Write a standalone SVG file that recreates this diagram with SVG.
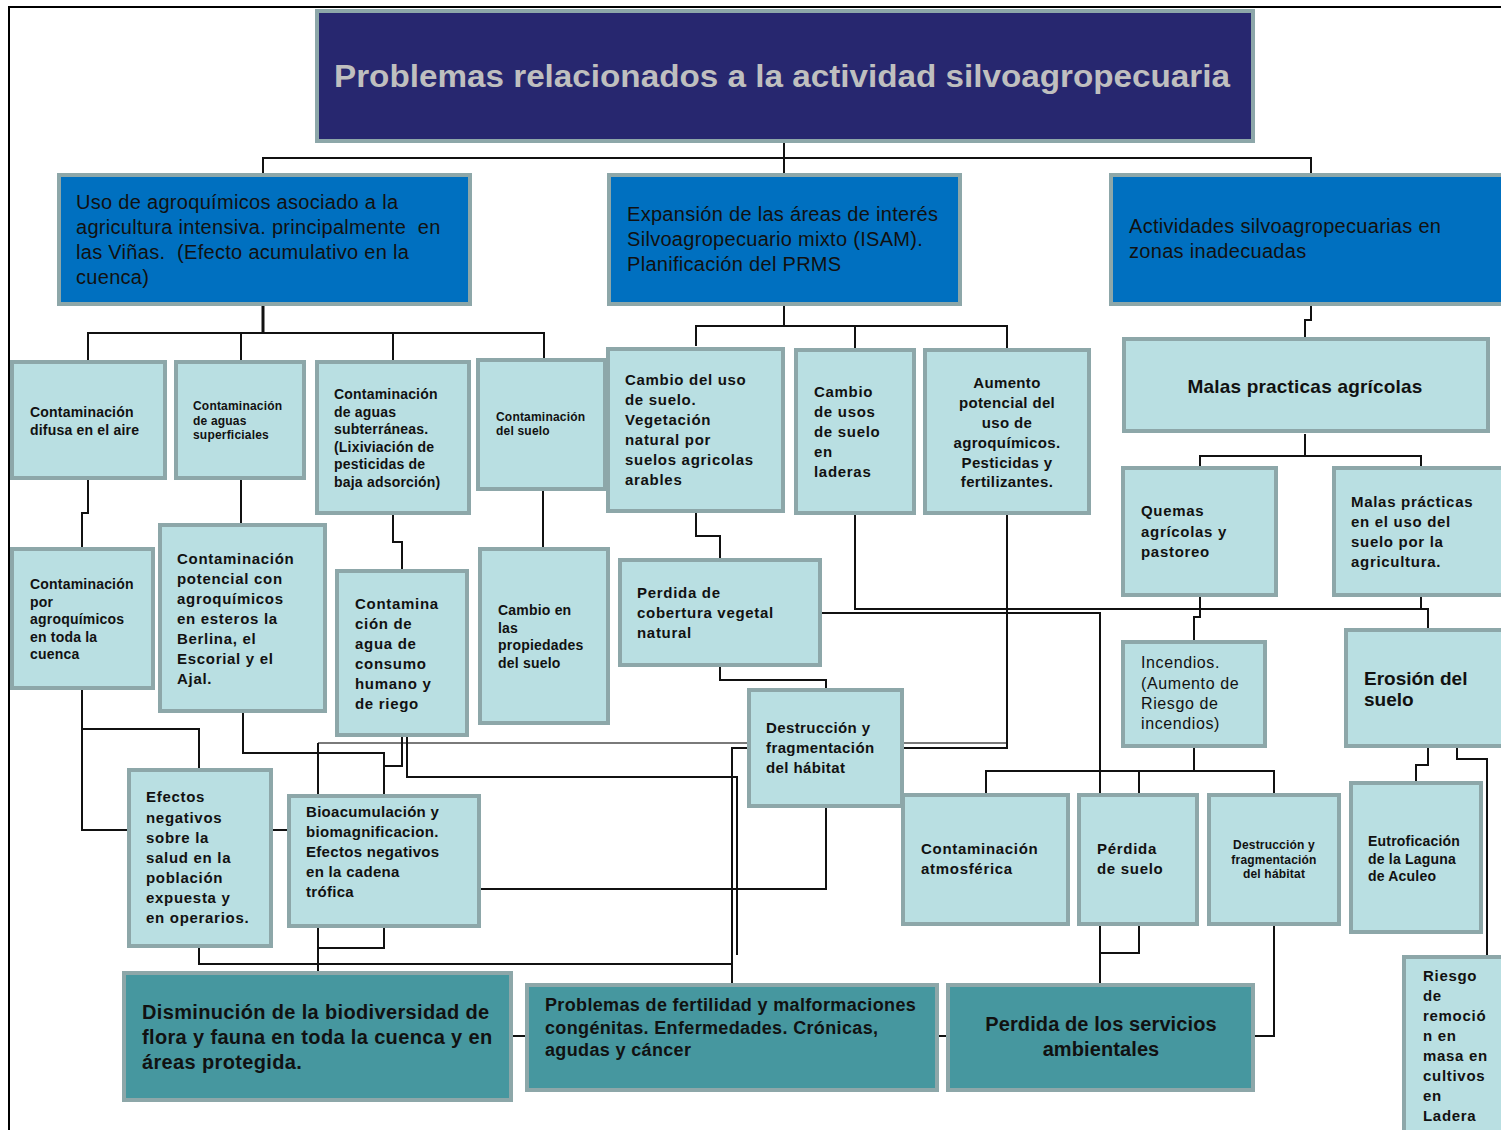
<svg xmlns="http://www.w3.org/2000/svg" width="1501" height="1130" viewBox="0 0 1501 1130">
<style>
text{font-family:"Liberation Sans",Arial,sans-serif;fill:#111}
.title{font-weight:bold;font-size:32px;fill:#BFBFBF}
.lt{fill:#B9DFE2;stroke:#8DA7A9;stroke-width:4}
.bl{fill:#0070C0;stroke:#8DA7A9;stroke-width:4}
.tl{fill:#46979F;stroke:#8DA7A9;stroke-width:4}
.nv{fill:#27276F;stroke:#8DA7A9;stroke-width:4}
.r20{font-size:20px;letter-spacing:0.3px;white-space:pre}
.b15{font-size:15px;font-weight:bold;letter-spacing:0.7px}
.b14{font-size:14px;font-weight:bold;letter-spacing:0.2px}
.b12{font-size:12px;font-weight:bold;letter-spacing:0.2px}
.r16{font-size:16px;letter-spacing:0.6px}
.b19{font-size:19px;font-weight:bold}
.b20{font-size:20px;font-weight:bold;letter-spacing:0.35px}
.b18{font-size:18px;font-weight:bold;letter-spacing:0.35px}
.mid{text-anchor:middle}
#connectors path{fill:none;stroke:#111;stroke-width:2}
#connectors path.g{stroke:#7A7A7A}
#connectors path.k{stroke-width:3}
</style>
<g id="frame">
<path d="M8,7 H1501 M9,7 V1130" fill="none" stroke="#000" stroke-width="2"/>
</g>
<g id="connectors">
<path d="M784,142 V158"/>
<path d="M263,175 V158 H1311 V175"/>
<path d="M784,158 V175"/>
<path class="k" d="M263,306 V333"/>
<path d="M88,360 V333 H544 V358 M241,333 V360 M393,333 V360"/>
<path d="M784,306 V326"/>
<path d="M696,346 V326 H1007 V349 M855,326 V349"/>
<path d="M1311,306 V320 H1305 V337"/>
<path d="M1305,434 V456"/>
<path d="M1200,466 V456 H1421 V466"/>
<path d="M88,480 V513 H82 V547"/>
<path d="M241,480 V523"/>
<path d="M393,515 V542 H402 V570"/>
<path d="M543,490 V547"/>
<path d="M696,512 V536 H720 V558"/>
<path d="M855,515 V609 H1421"/>
<path d="M1421,597 V609 H1428 V628"/>
<path d="M822,613 H1100 V794"/>
<path d="M1200,597 V617 H1194 V640"/>
<path d="M1194,748 V771"/>
<path d="M986,794 V771 H1274 V794 M1139,771 V794"/>
<path d="M1100,926 V983 M1139,926 V953 H1100"/>
<path d="M1274,926 V1036 H1255"/>
<path d="M1428,748 V765 H1416 V782"/>
<path d="M1457,748 V759 H1487 V955"/>
<path d="M720,667 V680 H826 V688"/>
<path class="g" d="M318,743 H1007"/>
<path d="M318,743 V794"/>
<path d="M1007,514 V748 H732 V983"/>
<path d="M826,808 V889 H481"/>
<path d="M243,713 V753 H384 V794"/>
<path d="M402,737 V766 H384"/>
<path d="M407,737 V777 H737 V955"/>
<path d="M82,690 V830 H127 M82,729 H199 V768"/>
<path d="M273,830 H287"/>
<path d="M199,947 V964 H732"/>
<path d="M318,927 V971 M384,927 V948 H318"/>
<path d="M513,1036 H525 M939,1036 H946"/>
</g>
<g id="n-title"><rect class="nv" x="317" y="11" width="936" height="130"/>
<text class="title" x="334" y="87" textLength="896" lengthAdjust="spacingAndGlyphs">Problemas relacionados a la actividad silvoagropecuaria</text></g>
<g id="n-uso"><rect class="bl" x="59" y="175" width="411" height="129"/>
<text class="r20" xml:space="preserve"><tspan x="76" y="209">Uso de agroquímicos asociado a la</tspan><tspan x="76" y="234">agricultura intensiva. principalmente  en</tspan><tspan x="76" y="259">las Viñas.  (Efecto acumulativo en la</tspan><tspan x="76" y="284">cuenca)</tspan></text></g>
<g id="n-expansion"><rect class="bl" x="609" y="175" width="351" height="129"/>
<text class="r20"><tspan x="627" y="221">Expansión de las áreas de interés</tspan><tspan x="627" y="246">Silvoagropecuario mixto (ISAM).</tspan><tspan x="627" y="271">Planificación del PRMS</tspan></text></g>
<g id="n-actividades"><rect class="bl" x="1111" y="175" width="397" height="129"/>
<text class="r20"><tspan x="1129" y="233">Actividades silvoagropecuarias en</tspan><tspan x="1129" y="258">zonas inadecuadas</tspan></text></g>
<g id="n-difusa"><rect class="lt" x="12" y="362" width="153" height="116"/>
<text class="b14"><tspan x="30" y="417">Contaminación</tspan><tspan x="30" y="435">difusa en el aire</tspan></text></g>
<g id="n-superficiales"><rect class="lt" x="176" y="362" width="128" height="116"/>
<text class="b12"><tspan x="193" y="410">Contaminación</tspan><tspan x="193" y="425">de aguas</tspan><tspan x="193" y="439">superficiales</tspan></text></g>
<g id="n-subterraneas"><rect class="lt" x="317" y="362" width="152" height="151"/>
<text class="b14"><tspan x="334" y="399">Contaminación</tspan><tspan x="334" y="417">de aguas</tspan><tspan x="334" y="434">subterráneas.</tspan><tspan x="334" y="452">(Lixiviación de</tspan><tspan x="334" y="469">pesticidas de</tspan><tspan x="334" y="487">baja adsorción)</tspan></text></g>
<g id="n-suelo"><rect class="lt" x="478" y="360" width="127" height="129"/>
<text class="b12"><tspan x="496" y="421">Contaminación</tspan><tspan x="496" y="435">del suelo</tspan></text></g>
<g id="n-cambio-uso"><rect class="lt" x="608" y="349" width="175" height="162"/>
<text class="b15"><tspan x="625" y="385">Cambio del uso</tspan><tspan x="625" y="405">de suelo.</tspan><tspan x="625" y="425">Vegetación</tspan><tspan x="625" y="445">natural por</tspan><tspan x="625" y="465">suelos agricolas</tspan><tspan x="625" y="485">arables</tspan></text></g>
<g id="n-laderas"><rect class="lt" x="796" y="350" width="118" height="163"/>
<text class="b15"><tspan x="814" y="397">Cambio</tspan><tspan x="814" y="417">de usos</tspan><tspan x="814" y="437">de suelo</tspan><tspan x="814" y="457">en</tspan><tspan x="814" y="477">laderas</tspan></text></g>
<g id="n-aumento"><rect class="lt" x="925" y="350" width="164" height="163"/>
<text class="b15 mid" style="letter-spacing:0.35px"><tspan x="1007" y="388">Aumento</tspan><tspan x="1007" y="408">potencial del</tspan><tspan x="1007" y="428">uso de</tspan><tspan x="1007" y="448">agroquímicos.</tspan><tspan x="1007" y="468">Pesticidas y</tspan><tspan x="1007" y="487">fertilizantes.</tspan></text></g>
<g id="n-malas"><rect class="lt" x="1124" y="339" width="364" height="92"/>
<text class="b19 mid" x="1305" y="393" style="letter-spacing:0.2px">Malas practicas agrícolas</text></g>
<g id="n-por-agroq"><rect class="lt" x="12" y="549" width="141" height="139"/>
<text class="b14"><tspan x="30" y="589">Contaminación</tspan><tspan x="30" y="607">por</tspan><tspan x="30" y="624">agroquímicos</tspan><tspan x="30" y="642">en toda la</tspan><tspan x="30" y="659">cuenca</tspan></text></g>
<g id="n-potencial"><rect class="lt" x="160" y="525" width="165" height="186"/>
<text class="b15"><tspan x="177" y="564">Contaminación</tspan><tspan x="177" y="584">potencial con</tspan><tspan x="177" y="604">agroquímicos</tspan><tspan x="177" y="624">en esteros la</tspan><tspan x="177" y="644">Berlina, el</tspan><tspan x="177" y="664">Escorial y el</tspan><tspan x="177" y="684">Ajal.</tspan></text></g>
<g id="n-agua"><rect class="lt" x="337" y="571" width="130" height="164"/>
<text class="b15"><tspan x="355" y="609">Contamina</tspan><tspan x="355" y="629">ción de</tspan><tspan x="355" y="649">agua de</tspan><tspan x="355" y="669">consumo</tspan><tspan x="355" y="689">humano y</tspan><tspan x="355" y="709">de riego</tspan></text></g>
<g id="n-propiedades"><rect class="lt" x="480" y="549" width="128" height="174"/>
<text class="b14"><tspan x="498" y="615">Cambio en</tspan><tspan x="498" y="633">las</tspan><tspan x="498" y="650">propiedades</tspan><tspan x="498" y="668">del suelo</tspan></text></g>
<g id="n-cobertura"><rect class="lt" x="620" y="560" width="200" height="105"/>
<text class="b15"><tspan x="637" y="598">Perdida de</tspan><tspan x="637" y="618">cobertura vegetal</tspan><tspan x="637" y="638">natural</tspan></text></g>
<g id="n-quemas"><rect class="lt" x="1123" y="468" width="153" height="127"/>
<text class="b15"><tspan x="1141" y="516">Quemas</tspan><tspan x="1141" y="537">agrícolas y</tspan><tspan x="1141" y="557">pastoreo</tspan></text></g>
<g id="n-malas-uso"><rect class="lt" x="1334" y="468" width="174" height="127"/>
<text class="b15"><tspan x="1351" y="507">Malas prácticas</tspan><tspan x="1351" y="527">en el uso del</tspan><tspan x="1351" y="547">suelo por la</tspan><tspan x="1351" y="567">agricultura.</tspan></text></g>
<g id="n-destruccion"><rect class="lt" x="749" y="690" width="153" height="116"/>
<text class="b15" style="letter-spacing:0.4px"><tspan x="766" y="733">Destrucción y</tspan><tspan x="766" y="753">fragmentación</tspan><tspan x="766" y="773">del hábitat</tspan></text></g>
<g id="n-incendios"><rect class="lt" x="1123" y="642" width="142" height="104"/>
<text class="r16"><tspan x="1141" y="668">Incendios.</tspan><tspan x="1141" y="689">(Aumento de</tspan><tspan x="1141" y="709">Riesgo de</tspan><tspan x="1141" y="729">incendios)</tspan></text></g>
<g id="n-erosion"><rect class="lt" x="1346" y="630" width="162" height="116"/>
<text class="b19"><tspan x="1364" y="685">Erosión del</tspan><tspan x="1364" y="706">suelo</tspan></text></g>
<g id="n-efectos"><rect class="lt" x="129" y="770" width="142" height="176"/>
<text class="b15"><tspan x="146" y="802">Efectos</tspan><tspan x="146" y="823">negativos</tspan><tspan x="146" y="843">sobre la</tspan><tspan x="146" y="863">salud en la</tspan><tspan x="146" y="883">población</tspan><tspan x="146" y="903">expuesta y</tspan><tspan x="146" y="923">en operarios.</tspan></text></g>
<g id="n-bioacum"><rect class="lt" x="289" y="796" width="190" height="130"/>
<text class="b15" style="letter-spacing:0.3px"><tspan x="306" y="817">Bioacumulación y</tspan><tspan x="306" y="837">biomagnificacion.</tspan><tspan x="306" y="857">Efectos negativos</tspan><tspan x="306" y="877">en la cadena</tspan><tspan x="306" y="897">trófica</tspan></text></g>
<g id="n-atmos"><rect class="lt" x="903" y="795" width="165" height="129"/>
<text class="b15"><tspan x="921" y="854">Contaminación</tspan><tspan x="921" y="874">atmosférica</tspan></text></g>
<g id="n-perdida-suelo"><rect class="lt" x="1079" y="795" width="118" height="129"/>
<text class="b15"><tspan x="1097" y="854">Pérdida</tspan><tspan x="1097" y="874">de suelo</tspan></text></g>
<g id="n-destruccion2"><rect class="lt" x="1209" y="795" width="130" height="129"/>
<text class="b12 mid"><tspan x="1274" y="849">Destrucción y</tspan><tspan x="1274" y="864">fragmentación</tspan><tspan x="1274" y="878">del hábitat</tspan></text></g>
<g id="n-eutrof"><rect class="lt" x="1351" y="783" width="130" height="149"/>
<text class="b14"><tspan x="1368" y="846">Eutroficación</tspan><tspan x="1368" y="864">de la Laguna</tspan><tspan x="1368" y="881">de Aculeo</tspan></text></g>
<g id="n-riesgo"><rect class="lt" x="1404" y="957" width="106" height="183"/>
<text class="b15"><tspan x="1423" y="981">Riesgo</tspan><tspan x="1423" y="1001">de</tspan><tspan x="1423" y="1021">remoció</tspan><tspan x="1423" y="1041">n en</tspan><tspan x="1423" y="1061">masa en</tspan><tspan x="1423" y="1081">cultivos</tspan><tspan x="1423" y="1101">en</tspan><tspan x="1423" y="1121">Ladera</tspan></text></g>
<g id="n-disminucion"><rect class="tl" x="124" y="973" width="387" height="127"/>
<text class="b20"><tspan x="142" y="1019">Disminución de la biodiversidad de</tspan><tspan x="142" y="1044">flora y fauna en toda la cuenca y en</tspan><tspan x="142" y="1069">áreas protegida.</tspan></text></g>
<g id="n-fertilidad"><rect class="tl" x="527" y="985" width="410" height="105"/>
<text class="b18"><tspan x="545" y="1011">Problemas de fertilidad y malformaciones</tspan><tspan x="545" y="1034">congénitas. Enfermedades. Crónicas,</tspan><tspan x="545" y="1056">agudas y cáncer</tspan></text></g>
<g id="n-servicios"><rect class="tl" x="948" y="985" width="305" height="105"/>
<text class="b20 mid" style="letter-spacing:0.1px"><tspan x="1101" y="1031">Perdida de los servicios</tspan><tspan x="1101" y="1056">ambientales</tspan></text></g>
</svg>
